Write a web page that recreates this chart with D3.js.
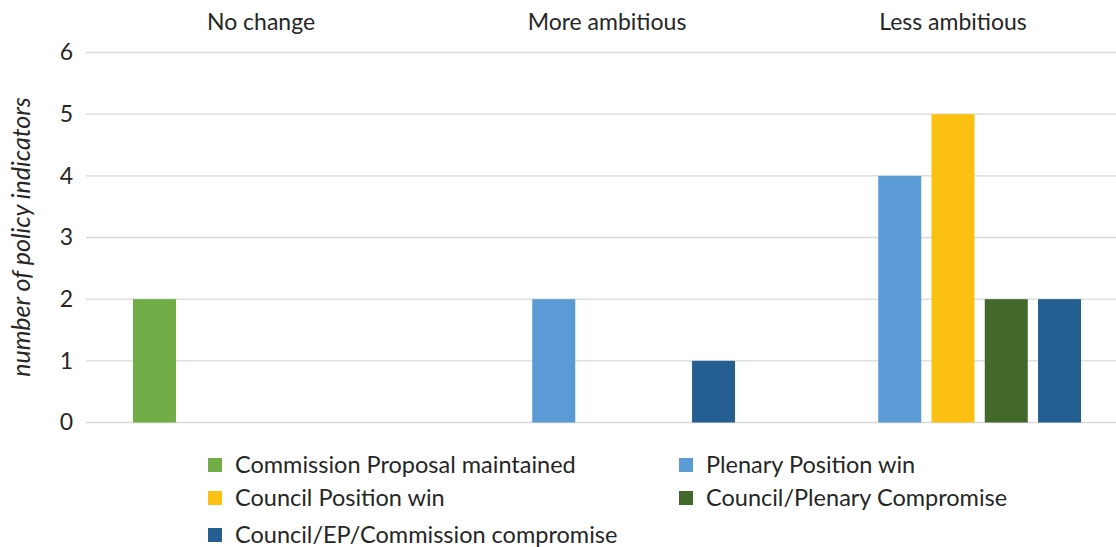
<!DOCTYPE html>
<html>
<head>
<meta charset="utf-8">
<script src="https://cdn.jsdelivr.net/npm/d3@7"></script>
<style>
  body { margin: 0; background: #fff; }
  text { font-family: Lato, "Open Sans", sans-serif; fill: #262626; }
</style>
</head>
<body>
<div id="chart"></div>
<script>
// categories and series
var categories = ["No change", "More ambitious", "Less ambitious"];
var seriesNames = [
  "Commission Proposal maintained",
  "Plenary Position win",
  "Council Position win",
  "Council/Plenary Compromise",
  "Council/EP/Commission compromise"
];
var seriesColors = ["#70ad47", "#5b9bd5", "#fcc013", "#43682b", "#255e91"];
// values per series, one entry per category (0 = no bar)
var commissionProposal = [2, 0, 0];
var plenaryWin = [0, 2, 4];
var councilWin = [0, 0, 5];
var councilPlenary = [0, 0, 2];
var councilEPCommission = [0, 1, 2];
var yTicks = [0, 1, 2, 3, 4, 5, 6];

var values = [commissionProposal, plenaryWin, councilWin, councilPlenary, councilEPCommission];

var width = 1116, height = 547;
var fontSize = "23px";

var svg = d3.select("#chart").append("svg")
    .attr("width", width)
    .attr("height", height);

var y = d3.scaleLinear().domain([0, 6]).range([422.5, 52.5]);

var x0 = d3.scaleBand()
    .domain(categories)
    .range([88, 1126])
    .paddingInner(0.26)
    .paddingOuter(0.13);

var x1 = d3.scaleBand()
    .domain(seriesNames)
    .range([0, x0.bandwidth()])
    .paddingInner(0.193);

// gridlines
svg.append("g")
    .selectAll("line")
    .data(yTicks)
    .join("line")
    .attr("x1", 86)
    .attr("x2", width)
    .attr("y1", d => y(d))
    .attr("y2", d => y(d))
    .style("stroke", "#d9d9d9")
    .style("stroke-width", 1.3);

// y axis labels
var yAxis = svg.append("g")
    .attr("transform", "translate(73,0)")
    .call(d3.axisLeft(y).tickValues(yTicks).tickFormat(d3.format("d")).tickSize(0).tickPadding(0));
yAxis.select(".domain").remove();
yAxis.selectAll("text")
    .style("font-size", fontSize)
    .style("font-family", "Lato, sans-serif")
    .attr("fill", "#262626");

// y title
svg.append("text")
    .attr("transform", "translate(30,237) rotate(-90)")
    .attr("text-anchor", "middle")
    .style("font-size", "25px")
    .style("font-style", "italic")
    .text("number of policy indicators");

// category labels on top
var topAxis = svg.append("g")
    .attr("transform", "translate(0,30)")
    .call(d3.axisTop(x0).tickSize(0).tickPadding(0));
topAxis.select(".domain").remove();
topAxis.selectAll("text")
    .style("font-size", fontSize)
    .style("font-family", "Lato, sans-serif")
    .attr("fill", "#262626");

// bars
var rows = [];
values.forEach(function (vals, si) {
  vals.forEach(function (v, ci) {
    if (v > 0) rows.push({ series: seriesNames[si], cat: categories[ci], value: v, color: seriesColors[si] });
  });
});

svg.append("g")
    .selectAll("rect")
    .data(rows)
    .join("rect")
    .attr("x", d => x0(d.cat) + x1(d.series))
    .attr("y", d => y(d.value))
    .attr("width", x1.bandwidth())
    .attr("height", d => y(0) - y(d.value))
    .style("fill", d => d.color);

// legend
var legendPos = [[208, 465], [679, 465], [208, 498], [679, 498], [208, 535]];
var legend = svg.append("g")
    .selectAll("g")
    .data(seriesNames)
    .join("g")
    .attr("transform", (d, i) => "translate(" + legendPos[i][0] + "," + legendPos[i][1] + ")");

legend.append("rect")
    .attr("x", 0)
    .attr("y", -7)
    .attr("width", 14)
    .attr("height", 14)
    .style("fill", (d, i) => seriesColors[i]);

legend.append("text")
    .attr("x", 27)
    .attr("dy", "0.35em")
    .style("font-size", "23.5px")
    .text(d => d);
</script>
</body>
</html>
